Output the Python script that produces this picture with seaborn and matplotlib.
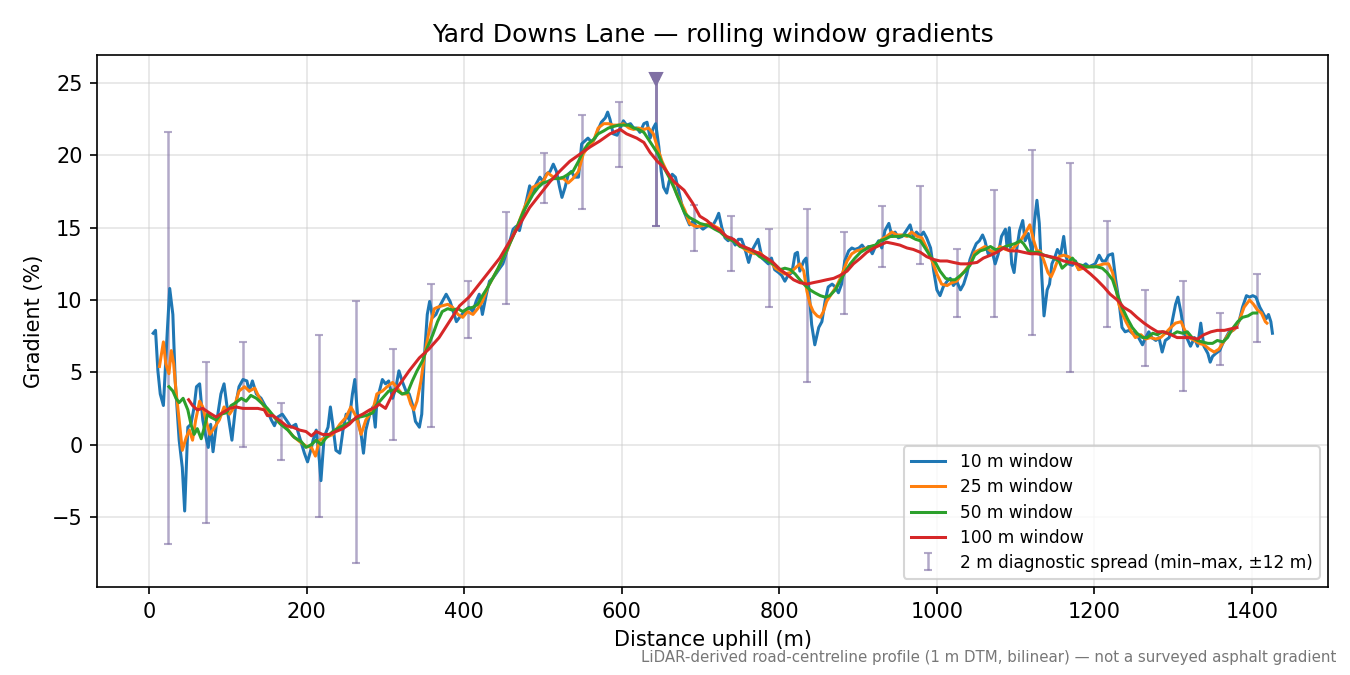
import numpy as np
import seaborn as sns
import matplotlib.pyplot as plt

# 10 m window (distance m, gradient %)
w10_m = [5, 8, 11, 14, 18, 23, 26, 30, 33, 38, 42, 45, 49, 53, 57, 60, 64, 68, 72, 75,
         78, 81, 86, 91, 95, 100, 105, 110, 114, 119, 124, 127, 131, 136, 142, 148, 155, 159, 163, 169,
         174, 180, 186, 191, 197, 201, 206, 208, 212, 216, 218, 222, 227, 230, 233, 237, 242, 246, 250, 254,
         258, 261, 265, 269, 272, 275, 280, 284, 287, 289, 296, 300, 304, 309, 313, 317, 321, 326, 330, 334,
         338, 343, 346, 349, 353, 356, 360, 364, 368, 372, 377, 382, 386, 390, 394, 400, 406, 411, 415, 419,
         423, 428, 432, 436, 440, 445, 449, 453, 457, 462, 466, 470, 474, 479, 483, 487, 491, 496, 500, 504,
         509, 513, 517, 521, 524, 528, 532, 536, 540, 545, 549, 553, 557, 562, 566, 570, 574, 579, 582, 585,
         589, 594, 598, 602, 606, 611, 615, 619, 623, 628, 632, 636, 640, 643, 647, 650, 653, 657, 660, 664,
         668, 672, 677, 682, 686, 691, 695, 699, 703, 708, 712, 716, 720, 723, 727, 731, 735, 739, 744, 748,
         752, 756, 761, 765, 769, 773, 778, 782, 786, 790, 794, 799, 803, 807, 811, 816, 820, 823, 826, 831,
         834, 837, 841, 845, 850, 854, 858, 862, 867, 871, 875, 879, 883, 888, 892, 896, 901, 905, 909, 913,
         918, 922, 926, 930, 934, 939, 943, 947, 951, 956, 960, 966, 970, 974, 979, 983, 987, 992, 996, 1000,
         1004, 1008, 1013, 1017, 1021, 1025, 1030, 1034, 1038, 1042, 1046, 1050, 1054, 1058, 1061, 1065, 1070, 1074, 1078, 1082,
         1087, 1089, 1092, 1095, 1098, 1101, 1105, 1109, 1112, 1116, 1121, 1124, 1127, 1130, 1133, 1136, 1140, 1143, 1146, 1150,
         1153, 1157, 1161, 1164, 1167, 1172, 1176, 1180, 1184, 1189, 1193, 1197, 1201, 1206, 1210, 1214, 1218, 1223, 1227, 1231,
         1235, 1239, 1244, 1248, 1252, 1256, 1261, 1265, 1269, 1273, 1278, 1282, 1286, 1290, 1295, 1299, 1303, 1306, 1310, 1314,
         1318, 1322, 1327, 1331, 1335, 1339, 1344, 1347, 1350, 1354, 1359, 1363, 1367, 1371, 1376, 1380, 1384, 1388, 1393, 1397,
         1401, 1405, 1410, 1414, 1418, 1421, 1424, 1426]
w10_pct = [7.7, 7.9, 5.1, 3.5, 2.7, 7.9, 10.8, 9.0, 4.4, 0.3, -1.6, -4.6, 1.2, 1.4, 2.6, 4.0, 4.2, 1.7, 0.5, -0.2,
           1.4, -0.5, 1.7, 3.5, 4.2, 2.1, 0.3, 2.8, 4.0, 4.5, 4.4, 3.7, 4.4, 3.5, 3.2, 2.6, 1.7, 1.3, 1.9, 2.1,
           1.7, 1.2, 1.4, 0.5, -0.6, -1.2, -0.2, 0.3, 1.0, -1.1, -2.5, 0.5, 1.2, 2.6, 1.4, -0.4, -0.6, 1.0, 2.1, 1.7,
           3.5, 4.5, 1.7, 0.7, -0.6, 1.0, 2.1, 2.6, 1.2, 3.0, 4.5, 4.2, 4.4, 3.2, 3.9, 5.1, 4.4, 3.7, 3.5, 2.8,
           1.6, 1.2, 2.1, 5.8, 9.0, 9.9, 8.8, 9.0, 9.5, 9.9, 10.4, 9.9, 9.2, 8.5, 8.8, 9.2, 9.5, 9.2, 9.9, 10.4,
           9.0, 10.4, 11.3, 11.5, 11.8, 12.2, 12.5, 13.2, 13.9, 14.9, 15.1, 14.8, 15.7, 16.9, 17.9, 17.4, 18.0, 18.5, 18.2, 18.7,
           18.9, 19.4, 18.9, 17.8, 17.1, 17.8, 18.7, 18.9, 18.5, 18.5, 20.8, 21.0, 21.2, 20.9, 21.2, 21.8, 22.3, 22.6, 23.0, 22.5,
           21.5, 21.4, 21.9, 22.4, 22.1, 22.2, 21.9, 21.9, 21.6, 22.2, 22.3, 21.2, 21.9, 22.2, 20.6, 18.9, 17.8, 17.4, 18.2, 18.7,
           18.5, 17.6, 16.4, 15.7, 15.2, 15.5, 15.0, 15.1, 14.9, 15.1, 15.3, 15.2, 15.6, 16.0, 15.0, 14.3, 14.1, 14.3, 13.8, 14.2,
           14.2, 13.6, 12.6, 13.4, 13.8, 14.2, 12.9, 12.7, 12.5, 12.9, 12.1, 11.9, 11.7, 11.3, 11.7, 11.9, 13.2, 13.3, 12.0, 12.7,
           12.9, 11.1, 8.3, 6.9, 8.1, 8.5, 9.9, 10.9, 11.1, 10.9, 10.5, 11.1, 12.7, 13.4, 13.6, 13.5, 13.6, 13.8, 13.5, 13.7,
           13.2, 13.7, 14.1, 13.6, 14.8, 15.3, 14.4, 14.7, 14.3, 14.4, 14.7, 15.2, 14.4, 14.7, 14.4, 14.7, 14.3, 13.6, 12.0, 10.7,
           10.3, 10.9, 11.3, 11.5, 11.0, 11.3, 10.7, 11.1, 11.8, 12.8, 13.4, 13.9, 14.1, 14.5, 14.1, 13.2, 13.4, 12.5, 13.2, 14.4,
           14.9, 13.7, 15.0, 12.5, 11.9, 13.4, 14.8, 15.5, 14.1, 14.6, 13.2, 15.5, 16.9, 15.3, 11.8, 8.9, 10.7, 11.1, 12.5, 13.0,
           13.5, 13.1, 14.4, 13.0, 12.5, 12.4, 12.7, 12.1, 12.3, 12.5, 12.3, 12.4, 12.5, 13.1, 12.7, 12.7, 13.1, 13.2, 11.4, 10.0,
           8.1, 7.8, 7.9, 7.7, 7.8, 7.4, 6.9, 7.4, 7.8, 7.4, 7.2, 7.4, 6.4, 7.2, 7.4, 8.6, 9.7, 10.2, 9.1, 7.7,
           7.3, 6.8, 7.4, 6.8, 8.4, 6.8, 6.3, 5.7, 6.1, 6.3, 6.5, 7.0, 7.4, 7.8, 7.9, 8.1, 8.6, 9.5, 10.3, 10.2,
           10.3, 10.2, 9.5, 9.1, 8.7, 9.0, 8.5, 7.7]

# 25 m window
w25_m = [13, 18, 21, 25, 28, 31, 34, 38, 42, 47, 51, 55, 59, 64, 68, 72, 77, 83, 89, 95,
         102, 108, 114, 121, 127, 134, 140, 148, 157, 165, 174, 182, 191, 199, 206, 211, 216, 225, 233, 242,
         250, 256, 263, 269, 275, 284, 289, 296, 302, 309, 315, 321, 328, 332, 336, 340, 345, 349, 353, 357,
         362, 366, 372, 379, 385, 392, 398, 404, 411, 417, 423, 430, 436, 443, 449, 455, 462, 468, 475, 481,
         487, 494, 500, 506, 513, 519, 526, 532, 538, 545, 551, 557, 564, 570, 577, 583, 589, 596, 602, 609,
         615, 621, 628, 634, 640, 645, 651, 657, 664, 670, 680, 686, 693, 699, 706, 712, 718, 725, 731, 737,
         744, 750, 756, 763, 769, 775, 782, 788, 795, 801, 807, 814, 820, 826, 831, 835, 839, 843, 848, 852,
         856, 860, 867, 873, 879, 886, 892, 898, 905, 911, 917, 924, 930, 936, 943, 949, 956, 962, 968, 975,
         981, 987, 994, 1000, 1006, 1013, 1019, 1025, 1032, 1038, 1043, 1048, 1055, 1061, 1068, 1074, 1080, 1087, 1093, 1099,
         1106, 1112, 1118, 1123, 1127, 1131, 1136, 1141, 1145, 1149, 1155, 1161, 1167, 1174, 1180, 1186, 1193, 1199, 1206, 1212,
         1218, 1223, 1227, 1231, 1235, 1240, 1246, 1252, 1259, 1265, 1271, 1278, 1284, 1290, 1297, 1303, 1310, 1314, 1320, 1327,
         1333, 1339, 1346, 1352, 1358, 1365, 1371, 1378, 1384, 1390, 1397, 1402, 1407, 1412, 1417, 1419]
w25_pct = [5.4, 7.1, 5.6, 4.9, 6.5, 5.6, 3.7, 1.7, -0.4, 0.5, 1.0, 0.3, 1.7, 3.0, 2.6, 1.7, 0.7, 1.2, 1.7, 2.6,
           2.1, 2.6, 3.7, 4.0, 3.7, 3.9, 3.2, 2.4, 2.0, 1.5, 1.2, 0.6, 0.2, -0.1, -0.2, -0.8, 0.3, 0.5, 0.7, 1.4,
           1.9, 2.6, 1.9, 0.7, 1.7, 2.4, 3.5, 3.7, 4.0, 4.3, 3.9, 3.5, 3.5, 2.8, 2.4, 3.0, 4.4, 6.0, 7.2, 8.3,
           9.4, 9.5, 9.6, 9.7, 9.5, 9.0, 8.8, 9.2, 9.0, 9.4, 9.9, 10.9, 11.5, 12.2, 12.9, 13.5, 14.5, 15.2, 16.2, 17.0,
           17.8, 18.0, 18.2, 18.8, 18.5, 18.4, 18.4, 18.1, 18.4, 18.9, 20.1, 20.6, 21.0, 21.9, 22.2, 22.2, 22.1, 22.1, 22.2, 21.9,
           21.8, 21.9, 21.8, 21.9, 21.5, 20.6, 19.6, 18.9, 18.2, 17.3, 16.2, 15.3, 15.1, 15.1, 15.2, 15.3, 15.1, 14.9, 14.4, 14.2,
           14.1, 13.8, 13.5, 13.3, 13.2, 13.3, 12.9, 12.7, 12.2, 12.0, 11.8, 11.9, 12.2, 12.5, 12.0, 10.6, 9.7, 9.2, 8.9, 8.8,
           9.2, 9.9, 10.5, 11.0, 11.7, 12.7, 13.2, 13.4, 13.5, 13.6, 13.7, 13.8, 14.2, 14.4, 14.7, 14.5, 14.5, 14.4, 14.7, 14.4,
           14.3, 13.6, 12.7, 11.8, 11.1, 11.0, 11.2, 11.3, 11.8, 12.2, 12.6, 13.3, 13.5, 13.7, 13.4, 13.3, 13.7, 13.5, 13.4, 13.7,
           14.1, 14.6, 15.2, 14.1, 13.4, 13.4, 12.7, 11.9, 11.6, 12.1, 13.0, 13.1, 13.0, 12.7, 12.1, 12.2, 12.3, 12.3, 12.4, 12.5,
           12.5, 11.9, 10.9, 9.7, 9.1, 8.5, 7.9, 7.4, 7.6, 7.3, 7.4, 7.3, 7.4, 7.7, 8.1, 8.4, 8.5, 8.0, 7.4, 7.2,
           7.0, 6.9, 6.6, 6.4, 6.6, 7.2, 7.7, 8.0, 8.6, 9.5, 10.0, 9.7, 9.3, 9.1, 8.5, 8.4]

# 50 m window
w50_m = [25, 30, 34, 38, 43, 49, 53, 57, 61, 66, 70, 74, 78, 85, 91, 98, 104, 110, 117, 123,
         129, 136, 142, 150, 159, 167, 176, 184, 193, 199, 206, 212, 218, 225, 233, 242, 250, 259, 267, 275,
         284, 288, 296, 304, 313, 321, 328, 334, 340, 347, 353, 360, 366, 372, 379, 385, 392, 398, 404, 411,
         417, 423, 430, 436, 443, 449, 455, 462, 468, 475, 481, 487, 494, 500, 506, 513, 519, 526, 532, 538,
         545, 551, 557, 564, 570, 577, 583, 589, 596, 602, 609, 615, 621, 628, 634, 640, 647, 653, 660, 666,
         672, 680, 686, 693, 699, 706, 712, 718, 725, 731, 737, 744, 750, 756, 763, 769, 775, 782, 788, 795,
         801, 807, 814, 820, 826, 833, 839, 845, 852, 858, 864, 871, 877, 884, 890, 896, 903, 909, 915, 922,
         928, 934, 941, 947, 953, 960, 966, 973, 979, 985, 992, 998, 1004, 1011, 1017, 1023, 1030, 1036, 1042, 1048,
         1055, 1061, 1068, 1074, 1080, 1087, 1093, 1099, 1106, 1110, 1116, 1123, 1129, 1136, 1142, 1148, 1155, 1159, 1165, 1172,
         1178, 1184, 1191, 1197, 1203, 1210, 1216, 1223, 1229, 1235, 1242, 1248, 1254, 1261, 1267, 1274, 1280, 1286, 1293, 1299,
         1305, 1312, 1318, 1324, 1331, 1337, 1344, 1350, 1356, 1363, 1369, 1375, 1382, 1388, 1395, 1401, 1406]
w50_pct = [4.0, 3.7, 3.2, 2.9, 3.2, 2.4, 1.4, 0.7, 1.1, 0.4, 1.2, 2.1, 1.9, 1.7, 2.1, 2.2, 2.7, 2.9, 3.2, 3.0,
           3.4, 3.2, 2.9, 2.5, 1.9, 1.4, 1.0, 0.5, 0.2, -0.2, 0.0, 0.3, 0.0, 0.5, 0.9, 1.2, 1.4, 1.7, 1.9, 2.0,
           2.2, 2.7, 3.2, 3.7, 3.8, 3.5, 3.6, 4.4, 5.1, 5.8, 6.7, 7.6, 8.5, 9.2, 9.4, 9.3, 9.4, 9.2, 9.4, 9.5,
           9.7, 10.3, 10.9, 11.5, 12.2, 12.9, 13.6, 14.4, 15.2, 16.1, 16.7, 17.3, 17.8, 18.1, 18.2, 18.4, 18.4, 18.5, 18.7, 18.9,
           19.6, 20.3, 20.8, 21.1, 21.5, 21.7, 21.9, 22.0, 22.1, 22.1, 22.1, 21.9, 21.8, 21.6, 21.1, 20.6, 20.0, 19.2, 18.5, 17.8,
           17.0, 16.0, 15.7, 15.5, 15.3, 15.2, 15.1, 14.9, 14.7, 14.4, 14.2, 14.0, 13.7, 13.6, 13.5, 13.3, 13.0, 12.8, 12.6, 12.4,
           12.1, 12.2, 12.1, 11.8, 11.4, 11.0, 10.7, 10.5, 10.3, 10.2, 10.3, 10.7, 11.3, 12.0, 12.5, 12.9, 13.3, 13.5, 13.7, 13.8,
           14.1, 14.2, 14.4, 14.4, 14.4, 14.5, 14.4, 14.2, 14.1, 13.6, 13.0, 12.6, 12.0, 11.5, 11.4, 11.4, 11.7, 12.0, 12.4, 13.1,
           13.4, 13.5, 13.7, 13.5, 13.5, 13.7, 13.8, 13.9, 14.1, 13.9, 13.4, 13.3, 13.3, 13.1, 13.0, 12.9, 12.7, 12.2, 12.5, 12.9,
           12.5, 12.4, 12.3, 12.3, 12.3, 12.2, 11.9, 11.4, 10.4, 9.5, 8.7, 8.1, 7.7, 7.4, 7.4, 7.7, 7.6, 7.8, 7.7, 7.6,
           7.8, 7.7, 7.8, 7.4, 7.2, 7.1, 7.0, 7.0, 7.2, 7.1, 7.4, 8.0, 8.5, 8.8, 8.9, 9.1, 9.1]

# 100 m window
w100_m = [50, 55, 61, 68, 76, 85, 93, 102, 110, 119, 127, 138, 146, 150, 157, 165, 174, 182, 191, 199,
          206, 212, 220, 229, 237, 246, 254, 263, 271, 280, 288, 292, 300, 309, 321, 330, 343, 355, 368, 381,
          394, 406, 419, 432, 445, 457, 470, 483, 496, 509, 521, 534, 547, 560, 572, 585, 598, 606, 619, 628,
          636, 645, 653, 666, 679, 690, 699, 708, 716, 725, 733, 742, 750, 759, 767, 775, 784, 792, 801, 809,
          818, 826, 835, 843, 852, 860, 869, 877, 886, 894, 903, 911, 920, 928, 936, 945, 953, 962, 970, 979,
          987, 996, 1004, 1013, 1021, 1030, 1038, 1051, 1059, 1068, 1076, 1085, 1093, 1102, 1110, 1119, 1127, 1136, 1144, 1152,
          1161, 1169, 1178, 1186, 1195, 1203, 1212, 1220, 1229, 1237, 1246, 1254, 1263, 1271, 1280, 1288, 1297, 1305, 1314, 1322,
          1331, 1339, 1348, 1356, 1365, 1373, 1381]
w100_pct = [3.1, 2.7, 2.4, 2.5, 2.2, 1.9, 2.2, 2.5, 2.6, 2.5, 2.5, 2.5, 2.4, 2.0, 2.0, 1.7, 1.3, 1.2, 1.0, 0.9,
            0.6, 0.9, 0.7, 0.7, 0.9, 1.1, 1.4, 1.9, 2.1, 2.4, 2.6, 2.8, 2.5, 3.5, 4.4, 5.1, 6.0, 6.6, 7.4, 8.5,
            9.6, 10.2, 11.1, 12.0, 12.9, 14.0, 15.2, 16.4, 17.3, 18.2, 18.9, 19.6, 20.1, 20.6, 21.0, 21.5, 21.8, 21.5, 21.2, 20.9,
            20.2, 19.6, 19.2, 18.2, 17.6, 16.7, 15.8, 15.5, 15.1, 14.8, 14.4, 14.2, 13.8, 13.6, 13.4, 13.2, 12.9, 12.6, 12.1, 11.8,
            11.4, 11.2, 11.1, 11.2, 11.3, 11.4, 11.5, 11.7, 12.0, 12.5, 12.9, 13.3, 13.6, 13.8, 14.0, 13.9, 13.8, 13.6, 13.5, 13.3,
            13.0, 12.8, 12.7, 12.7, 12.6, 12.5, 12.5, 12.6, 12.9, 13.1, 13.3, 13.6, 13.4, 13.4, 13.3, 13.2, 13.2, 13.1, 13.0, 12.9,
            12.7, 12.6, 12.5, 12.2, 11.8, 11.4, 10.9, 10.4, 10.0, 9.5, 9.2, 8.8, 8.4, 8.1, 7.8, 7.8, 7.6, 7.4, 7.4, 7.4,
            7.3, 7.6, 7.8, 7.9, 7.9, 8.0, 8.1]

# 2 m diagnostic spread (min / max within +-12 m)
spread_m = [24, 72, 119, 167, 215, 262, 310, 358, 405, 453, 501, 549, 596, 644, 692,
            739, 787, 835, 882, 930, 978, 1026, 1073, 1121, 1169, 1216, 1264, 1312, 1360, 1407]
spread_min = [-6.9, -5.4, -0.2, -1.1, -5.0, -8.2, 0.3, 1.2, 7.4, 9.7, 16.7, 16.3, 19.2, 15.1, 13.4,
              12.0, 9.5, 4.3, 9.0, 12.3, 12.5, 8.8, 8.8, 7.6, 5.0, 8.1, 5.4, 3.7, 5.5, 7.1]
spread_max = [21.6, 5.7, 7.1, 2.9, 7.6, 9.9, 6.6, 11.1, 11.3, 16.1, 20.2, 22.8, 23.7, 25.3, 16.6,
              15.8, 14.9, 16.3, 14.7, 16.5, 17.9, 13.5, 17.6, 20.4, 19.5, 15.5, 10.7, 11.3, 9.1, 11.8]
peak_idx = 13

fig, ax = plt.subplots(figsize=(9, 4.5), dpi=150)
fig.subplots_adjust(left=0.072, right=0.984, top=0.919, bottom=0.130)

spread_col = "#8070a4"
lo = np.array(spread_min)
hi = np.array(spread_max)
mid = (lo + hi) / 2
xs = np.array(spread_m)
norm = np.arange(len(xs)) != peak_idx

series = [
    (w10_m, w10_pct, "10 m window", "tab:blue"),
    (w25_m, w25_pct, "25 m window", "tab:orange"),
    (w50_m, w50_pct, "50 m window", "tab:green"),
    (w100_m, w100_pct, "100 m window", "tab:red"),
]
for xm, yp, lab, col in series:
    sns.lineplot(x=xm, y=yp, ax=ax, label=lab, color=col, linewidth=1.45,
                 estimator=None, sort=False, zorder=2)

ax.errorbar(xs[norm], mid[norm], yerr=[mid[norm] - lo[norm], hi[norm] - mid[norm]],
            fmt="none", ecolor=spread_col, alpha=0.6, elinewidth=1.2, capsize=2,
            zorder=1, label="2 m diagnostic spread (min\u2013max, \u00b112 m)")
ax.errorbar(xs[~norm], mid[~norm], yerr=[mid[~norm] - lo[~norm], hi[~norm] - mid[~norm]],
            fmt="none", ecolor=spread_col, alpha=0.9, elinewidth=1.4, capsize=2, zorder=1)
ax.plot(xs[peak_idx], hi[peak_idx], marker="v", color=spread_col, markersize=6, zorder=3)

ax.grid(True, color="#cccccc", alpha=0.5, linewidth=0.8)
ax.set_axisbelow(True)
ax.set_title("Yard Downs Lane \u2014 rolling window gradients", fontsize=12)
ax.set_xlabel("Distance uphill (m)", fontsize=10)
ax.set_ylabel("Gradient (%)", fontsize=10)

handles, labels = ax.get_legend_handles_labels()
order = [labels.index(t) for t in ["10 m window", "25 m window", "50 m window", "100 m window",
                                   "2 m diagnostic spread (min\u2013max, \u00b112 m)"]]
ax.legend([handles[i] for i in order], [labels[i] for i in order],
          loc="lower right", fontsize=8.2, labelspacing=0.42, handletextpad=0.9)

fig.text(0.99, 0.015, "LiDAR-derived road-centreline profile (1 m DTM, bilinear) \u2014 not a surveyed asphalt gradient",
         ha="right", va="bottom", fontsize=7.2, color="#777777")

fig.savefig("out.png", dpi=150)
